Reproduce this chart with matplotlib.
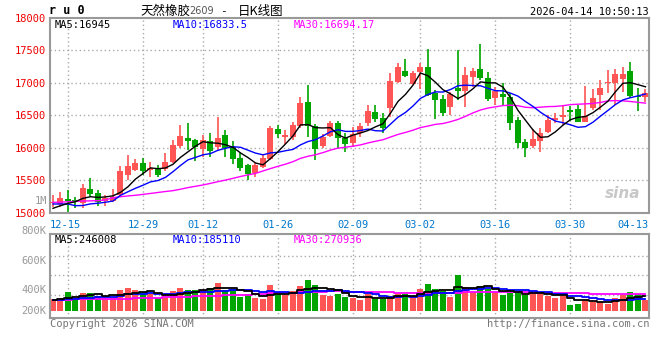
import matplotlib
matplotlib.use("Agg")
import matplotlib.pyplot as plt
import numpy as np
import pandas as pd

# trading days shown (2025-12-11 .. 2026-04-14)
dates = ["12-11", "12-12", "12-15", "12-16", "12-17", "12-18", "12-19", "12-22", "12-23", "12-24",
         "12-25", "12-26", "12-29", "12-30", "12-31", "01-05", "01-06", "01-07", "01-08", "01-09",
         "01-12", "01-13", "01-14", "01-15", "01-16", "01-19", "01-20", "01-21", "01-22", "01-23",
         "01-26", "01-27", "01-28", "01-29", "01-30", "02-02", "02-03", "02-04", "02-05", "02-06",
         "02-09", "02-10", "02-11", "02-12", "02-13", "02-24", "02-25", "02-26", "02-27", "03-02",
         "03-03", "03-04", "03-05", "03-06", "03-09", "03-10", "03-11", "03-12", "03-13", "03-16",
         "03-17", "03-18", "03-19", "03-20", "03-23", "03-24", "03-25", "03-26", "03-27", "03-30",
         "03-31", "04-01", "04-02", "04-03", "04-07", "04-08", "04-09", "04-10", "04-13", "04-14"]

opens = [15160, 15138, 15215, 15200, 15148, 15368, 15302, 15184, 15184, 15276,
         15583, 15660, 15762, 15660, 15695, 15670, 15787, 16028, 16150, 16120,
         15977, 16104, 16018, 16196, 16018, 15850, 15736, 15608, 15711, 15828,
         16289, 16171, 16171, 16334, 16708, 16334, 16028, 16181, 16375, 16156,
         16079, 16222, 16386, 16549, 16452, 16605, 17015, 17178, 16984, 17168,
         17245, 16846, 16744, 16631, 16923, 16876, 17091, 17204, 17076, 16759,
         16825, 16779, 16427, 16094, 16033, 16110, 16248, 16427, 16478, 16575,
         16595, 16401, 16616, 16810, 16994, 16999, 17055, 17183, 16800, 16784]
highs = [15276, 15327, 15353, 15240, 15445, 15542, 15353, 15276, 15368, 15721,
         15890, 15833, 15839, 15787, 15736, 15915, 16120, 16350, 16375, 16135,
         16196, 16222, 16467, 16273, 16110, 15915, 15752, 15762, 15890, 16334,
         16350, 16273, 16401, 16784, 16963, 16365, 16212, 16406, 16411, 16222,
         16314, 16375, 16657, 16657, 16539, 17153, 17306, 17362, 17173, 17306,
         17516, 16887, 16810, 16861, 17500, 17245, 17219, 17592, 17163, 16938,
         16989, 16836, 16478, 16130, 16294, 16309, 16503, 16539, 16652, 16641,
         16652, 16948, 16897, 17040, 17193, 17204, 17234, 17316, 16912, 16897]
lows = [15097, 15097, 15005, 15072, 15072, 15251, 15112, 15112, 15174, 15251,
        15506, 15649, 15583, 15557, 15557, 15649, 15762, 15992, 15966, 15803,
        15864, 15864, 15966, 15854, 15752, 15640, 15506, 15557, 15685, 15813,
        16145, 16058, 16120, 16299, 16171, 15813, 15992, 16171, 16002, 15941,
        16007, 16171, 16340, 16401, 16232, 16478, 16999, 17091, 16968, 16897,
        16800, 16447, 16488, 16503, 16733, 16631, 16938, 17040, 16723, 16657,
        16657, 16273, 15992, 15864, 15992, 15941, 16222, 16375, 16350, 16416,
        16391, 16391, 16580, 16580, 16836, 16657, 16861, 16759, 16570, 16708]
closes = [15170, 15225, 15189, 15165, 15378, 15291, 15174, 15225, 15251, 15644,
          15721, 15762, 15649, 15685, 15583, 15777, 16043, 16181, 16110, 16018,
          16120, 15956, 16150, 15992, 15823, 15690, 15598, 15736, 15849, 16309,
          16212, 16196, 16350, 16692, 16334, 15977, 16171, 16375, 16156, 16063,
          16212, 16334, 16565, 16437, 16299, 17025, 17234, 17107, 17142, 17234,
          16810, 16733, 16539, 16825, 16876, 17117, 17178, 17066, 16749, 16876,
          16784, 16386, 16079, 15992, 16130, 16222, 16427, 16462, 16498, 16554,
          16401, 16488, 16759, 16923, 17009, 17127, 17137, 16800, 16774, 16846]
# volume in thousands of lots
volumes = [188, 205, 303, 210, 288, 288, 248, 215, 215, 336,
           368, 336, 303, 271, 210, 210, 320, 368, 336, 336,
           336, 368, 449, 336, 352, 223, 271, 207, 191, 416,
           303, 255, 320, 400, 497, 416, 255, 242, 274, 226,
           210, 177, 274, 194, 194, 242, 274, 274, 226, 355,
           435, 355, 323, 226, 581, 387, 306, 403, 355, 306,
           258, 290, 290, 258, 323, 274, 242, 215, 242, 97,
           118, 177, 151, 145, 113, 215, 253, 306, 280, 177]

# moving-average values before enough history is on screen
ma5_warmup = [15072, 15112, 15148, 15174]
ma10_warmup = [15138, 15138, 15138, 15112, 15115, 15140, 15150, 15165, 15184]
ma30_warmup = [15164, 15166, 15172, 15178, 15184, 15186, 15190, 15200, 15235, 15250,
               15262, 15272, 15286, 15300, 15315, 15330, 15343, 15365, 15390, 15410,
               15430, 15455, 15481, 15505, 15532, 15560, 15585, 15608, 15645]
vma5_warmup = [172, 195, 215, 226]
vma10_warmup = [172, 180, 190, 199, 205, 215, 222, 226, 232]
vma30_warmup = [183, 184, 185, 186, 188, 190, 192, 194, 196, 198,
                199, 202, 206, 210, 214, 218, 222, 226, 231, 236,
                240, 244, 248, 252, 256, 260, 264, 268, 272]

# legend readouts as printed on the chart
price_ma_text = ["MA5:16945", "MA10:16833.5", "MA30:16694.17"]
vol_ma_text = ["MA5:246008", "MA10:185110", "MA30:270936"]

tick_dates = ["12-15", "12-29", "01-12", "01-26", "02-09", "03-02", "03-16", "03-30", "04-13"]
price_ticks = [15000, 15500, 16000, 16500, 17000, 17500, 18000]
vol_labels = ["800K", "600K", "400K", "200K"]

RED = "#ff5555"
GREEN = "#00a600"
GRID = "#aaaaaa"
FRAME = "#999999"
MONO = "DejaVu Sans Mono"
MA_COLORS = ["black", "#0000ff", "#ff00ff"]


def moving(values, n, warmup):
    m = pd.Series(values, dtype=float).rolling(n).mean().to_numpy()
    m[:n - 1] = warmup
    return m


W, H = 660, 360


def box(l, t, r, b):
    return [l / W, 1 - b / H, (r - l) / W, (b - t) / H]


fig = plt.figure(figsize=(6.6, 3.6), dpi=100)
ax = fig.add_axes(box(50, 17.5, 649, 213))
axv = fig.add_axes(box(50, 234, 649, 318))

x = np.arange(len(dates))
o, hi, lo, c = (np.array(a, dtype=float) for a in (opens, highs, lows, closes))
col = np.where(c >= o, RED, GREEN)

for a in (ax, axv):
    a.set_xlim(-0.4, 79.47)
    for d in tick_dates[:-1]:
        a.axvline(dates.index(d), color=GRID, lw=1, ls=(0, (1, 2)), zorder=0)
    for s in a.spines.values():
        s.set_color(FRAME)
        s.set_linewidth(1.5)
    a.set_xticks([])

# price panel
ax.set_ylim(15000, 18000)
for p in price_ticks[1:-1]:
    ax.axhline(p, color=GRID, lw=1, ls=(0, (1, 2)), zorder=0)
ax.vlines(x, lo, hi, colors=col, lw=1.2, zorder=2)
ax.bar(x, np.maximum(np.abs(c - o), 12), bottom=np.minimum(o, c), width=0.8, color=col, zorder=3)
ax.plot(x, moving(closes, 30, ma30_warmup), color=MA_COLORS[2], lw=1, zorder=4)
ax.plot(x, moving(closes, 10, ma10_warmup), color=MA_COLORS[1], lw=1, zorder=4)
ax.plot(x, moving(closes, 5, ma5_warmup), color=MA_COLORS[0], lw=1, zorder=4)
ax.set_yticks(price_ticks)
ax.set_yticklabels([str(p) for p in price_ticks], color="#ee0000", family=MONO, fontsize=7.5)
ax.tick_params(axis="y", length=0, pad=3)

for txt, xf, cl in zip(price_ma_text, (0.008, 0.205, 0.407), MA_COLORS):
    ax.text(xf, 0.985, txt, transform=ax.transAxes, va="top", family=MONO, fontsize=7.5, color=cl)
ax.text(0.985, 0.06, "sina", transform=ax.transAxes, ha="right", va="bottom", fontsize=11,
        fontweight="bold", style="italic", color="#c8c8c8", zorder=1)

# volume panel
axv.set_ylim(-113, 1242)
for v in (253, 576, 892):
    axv.axhline(v, color=GRID, lw=1, ls=(0, (1, 2)), zorder=0)
axv.bar(x, volumes, width=0.8, color=col, zorder=2)
axv.plot(x, moving(volumes, 30, vma30_warmup), color=MA_COLORS[2], lw=1.3, drawstyle="steps-mid", zorder=3)
axv.plot(x, moving(volumes, 10, vma10_warmup), color=MA_COLORS[1], lw=1.3, drawstyle="steps-mid", zorder=3)
axv.plot(x, moving(volumes, 5, vma5_warmup), color=MA_COLORS[0], lw=1.3, drawstyle="steps-mid", zorder=3)
axv.set_yticks([])
for lab, yf in zip(vol_labels, (1.039, 0.682, 0.330, 0.087)):
    axv.text(-0.006, yf, lab, transform=axv.transAxes, ha="right", va="center",
             family=MONO, fontsize=7.5, color="#999999")
for txt, xf, cl in zip(vol_ma_text, (0.008, 0.205, 0.407), MA_COLORS):
    axv.text(xf, 0.985, txt, transform=axv.transAxes, va="top", family=MONO, fontsize=7.5, color=cl)

# date labels under price panel
for d in tick_dates:
    xi = (dates.index(d) + 0.4) / 79.87
    ha = "center"
    if d == tick_dates[0]:
        xi, ha = 0.0, "left"
    elif d == tick_dates[-1]:
        xi, ha = 1.0, "right"
    ax.text(xi, -0.035, d, transform=ax.transAxes, ha=ha, va="top", family=MONO, fontsize=7.5, color="#0077cc")


def ftext(px, py, s, **kw):
    fig.text(px / W, 1 - py / H, s, **kw)


ftext(47, 201, "1M", ha="right", va="center", family=MONO, fontsize=7.5, color="#999999")
ftext(49, 11, "r u 0", ha="left", va="center", family=MONO, fontsize=8.5, fontweight="bold", color="black")
ftext(140, 11, "天然橡胶", ha="left", va="center", family="Noto Sans CJK SC", fontsize=9, color="black")
ftext(189, 11.5, "2609", ha="left", va="center", family="DejaVu Sans", fontsize=7, color="#555555")
ftext(223, 11, "-", ha="center", va="center", family=MONO, fontsize=8, color="black")
ftext(238, 11, "日K线图", ha="left", va="center", family="Noto Sans CJK SC", fontsize=9, color="black")
ftext(649, 12, "2026-04-14 10:50:13", ha="right", va="center", family=MONO, fontsize=7.5, color="black")
ftext(50, 324, "Copyright 2026 SINA.COM", ha="left", va="center", family=MONO, fontsize=7.5, color="#777777")
ftext(649, 324, "http://finance.sina.com.cn", ha="right", va="center", family=MONO, fontsize=7.5, color="#777777")

fig.savefig("out.png", dpi=100, facecolor="white")
